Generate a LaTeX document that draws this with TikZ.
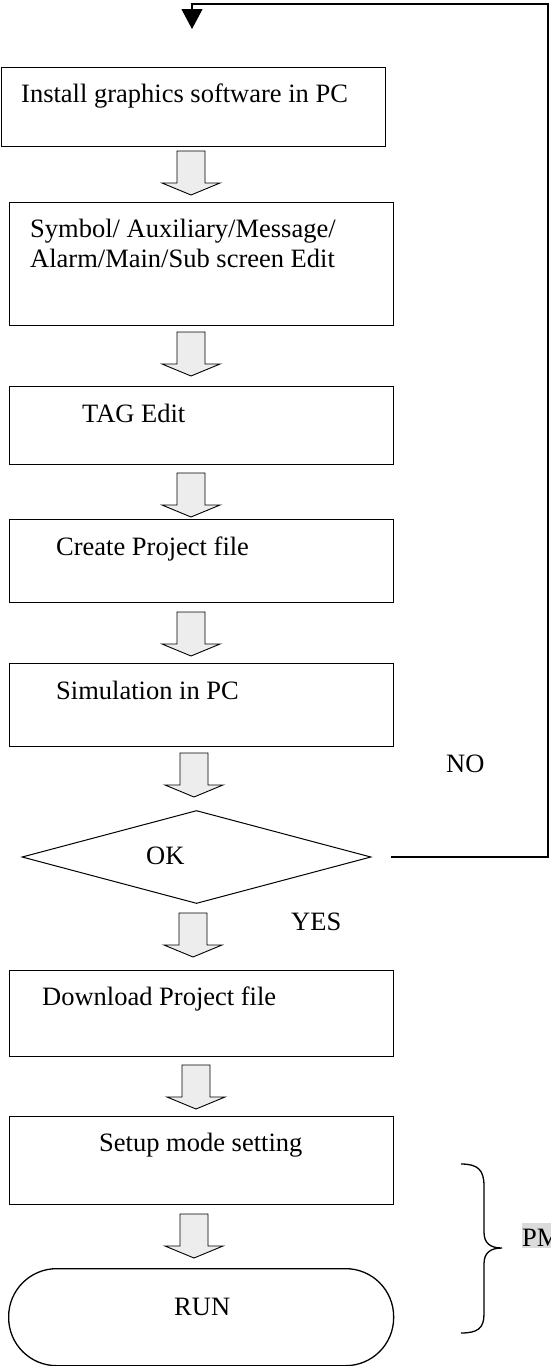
\documentclass[tikz,border=0pt]{standalone}
\usepackage{fontspec}
\setmainfont{Liberation Serif}
\usetikzlibrary{shapes.geometric,arrows.meta,calc}
\newcommand{\blockarr}[1]{\draw[barr] (#1) ++(-14,0) -- ++(28,0) -- ++(0,32) -- ++(15,0) -- ++(-29,12) -- ++(-29,-12) -- ++(15,0) -- cycle;}
\begin{document}
\begin{tikzpicture}[x=1pt,y=-1pt,
  box/.style={draw,line width=1.3pt,rectangle,anchor=north west,inner sep=0pt,minimum width=384pt},
  txt/.style={font=\fontsize{26.5}{30.5}\selectfont,inner sep=0pt,anchor=base west},
  barr/.style={draw,line width=0.9pt,fill=gray!14,line join=miter},
  loopline/.style={draw,line width=1.1pt},
  bracestyle/.style={draw,line width=1.3pt},
]
\useasboundingbox (0,0) rectangle (550,1366);

% boxes
\node[box,minimum height=79pt] (b1) at (0.7,67) {};
\node[box,minimum height=123pt] (b2) at (9,202) {};
\node[box,minimum height=78pt] (b3) at (9,386) {};
\node[box,minimum height=83pt] (b4) at (9,519) {};
\node[box,minimum height=83pt] (b5) at (9,663) {};
\node[draw,line width=1pt,diamond,aspect=3.75,minimum width=349pt,minimum height=93pt,inner sep=0pt] (dec) at (196.5,857) {};
\node[box,minimum height=86pt] (b6) at (9,970) {};
\node[box,minimum height=88pt] (b7) at (9,1116) {};
\node[draw,line width=1.3pt,rectangle,rounded corners=48pt,minimum width=385pt,minimum height=97pt,anchor=north west,inner sep=0pt] (run) at (8,1268) {};

% texts
\node[txt] (t1) at (21,102) {Install graphics software in PC};
\node[txt] (t2a) at (30,237) {Symbol/ Auxiliary/Message/};
\node[txt] (t2b) at (30,267) {Alarm/Main/Sub screen Edit};
\node[txt] (t3) at (82,422) {TAG Edit};
\node[txt] (t4) at (56,555) {Create Project file};
\node[txt] (t5) at (56,699) {Simulation in PC};
\node[txt] (tok) at (146,864) {OK};
\node[txt] (tno) at (446,772) {NO};
\node[txt] (tyes) at (291,930) {YES};
\node[txt] (t6) at (42,1005) {Download Project file};
\node[txt] (t7) at (99,1151) {Setup mode setting};
\node[txt] (trun) at (174,1315) {RUN};
\node[txt,fill=gray!28,text height=23pt,text depth=2pt] (tpm) at (522,1246) {PM};

% block arrows
\coordinate (a1) at (191,151);
\coordinate (a2) at (191,332);
\coordinate (a3) at (191,473);
\coordinate (a4) at (191,612);
\coordinate (a5) at (194,753);
\coordinate (a6) at (193,913);
\coordinate (a7) at (196,1065);
\coordinate (a8) at (194,1214);
\blockarr{a1}
\blockarr{a2}
\blockarr{a3}
\blockarr{a4}
\blockarr{a5}
\blockarr{a6}
\blockarr{a7}
\blockarr{a8}

% NO loop
\coordinate (nostart) at (391,857);
\coordinate (topr) at (548,4);
\coordinate (tip) at (192,29);
\draw[loopline,-{Triangle[width=21pt,length=20pt]}] (nostart) -| (topr) -| (tip);

% brace
\draw[bracestyle] (461,1164) .. controls (478,1164) and (484,1170) .. (484,1186) -- (484,1232) .. controls (484,1243) and (490,1248) .. (502,1248) .. controls (490,1248) and (484,1253) .. (484,1264) -- (484,1314) .. controls (484,1328) and (478,1333) .. (461,1333);
\end{tikzpicture}
\end{document}
